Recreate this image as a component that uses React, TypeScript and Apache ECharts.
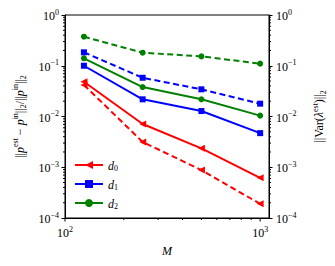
import React, { useEffect, useRef } from "react";
import * as echarts from "echarts";

const M = [125, 250, 500, 1000];
const d0Err = [0.0485, 0.0071, 0.00236, 0.00062];
const d1Err = [0.1, 0.0218, 0.0128, 0.0047];
const d2Err = [0.14, 0.038, 0.0218, 0.0104];
const d0Var = [0.0418, 0.00315, 0.00088, 0.00019];
const d1Var = [0.184, 0.058, 0.0343, 0.0179];
const d2Var = [0.374, 0.181, 0.153, 0.11];
const xMajorTicks = [100, 1000];
const xMinorTicks = [200, 300, 400, 500, 600, 700, 800, 900];
const yMinorTicks: number[] = [];
[1e-4, 1e-3, 1e-2, 1e-1].forEach((d) => {
  for (let k = 2; k <= 9; k++) yMinorTicks.push(+(d * k).toPrecision(3));
});

const FONT = "Liberation Serif";
const RED = "#ff0000";
const BLUE = "#0000ff";
const GREEN = "#008000";

const supLabel = (v: number) => {
  const e = Math.round(Math.log10(v));
  if (Math.abs(Math.log10(v) - e) > 1e-6) return "";
  return `{b|10}{s|${e < 0 ? "−" + -e : e}}`;
};

const labelRich = {
  b: { fontFamily: FONT, fontSize: 12, color: "#000", lineHeight: 14, verticalAlign: "bottom" },
  s: { fontFamily: FONT, fontSize: 8, color: "#000", lineHeight: 8, verticalAlign: "top" },
};

const nameRich = {
  n: { fontFamily: FONT, fontSize: 12, color: "#000", lineHeight: 16, verticalAlign: "middle" },
  i: { fontFamily: FONT, fontSize: 12, fontStyle: "italic", color: "#000", lineHeight: 16, verticalAlign: "middle" },
  sup: { fontFamily: FONT, fontSize: 8, color: "#000", lineHeight: 8, verticalAlign: "top" },
  sub: { fontFamily: FONT, fontSize: 8, color: "#000", lineHeight: 8, verticalAlign: "bottom" },
};

export default function App() {
  const ref = useRef<HTMLDivElement>(null);
  useEffect(() => {
    if (!ref.current) return;
    const chart = echarts.init(ref.current, undefined, { renderer: "svg" });
    const lineSeries = (name: string, ys: number[], color: string, symbol: string, dashed: boolean, rotate = 0, size = 6) => ({
      type: "line",
      name,
      data: M.map((x, i) => [x, ys[i]]),
      symbol,
      symbolSize: size,
      symbolRotate: rotate,
      showAllSymbol: true,
      color,
      itemStyle: { color },
      lineStyle: { color, width: 2, type: dashed ? [6, 3.5] : "solid" },
      z: 5,
    });
    const tickSeries = (data: number[][], kind: "x" | "y", len: number) => ({
      type: "custom",
      silent: true,
      clip: false,
      data,
      renderItem: (params: any, api: any) => {
        const cs = params.coordSys;
        const p = api.coord([api.value(0), api.value(1)]);
        const s = { stroke: "#000", lineWidth: 1 };
        if (kind === "x") {
          const y0 = cs.y + cs.height;
          return { type: "line", shape: { x1: p[0], y1: y0, x2: p[0], y2: y0 + len }, style: s };
        }
        return {
          type: "group",
          children: [
            { type: "line", shape: { x1: cs.x, y1: p[1], x2: cs.x - len, y2: p[1] }, style: s },
            { type: "line", shape: { x1: cs.x + cs.width, y1: p[1], x2: cs.x + cs.width + len, y2: p[1] }, style: s },
          ],
        };
      },
    });
    chart.setOption({
      animation: false,
      grid: { left: 65, right: 66, top: 15, bottom: 48, show: true, borderColor: "#000", borderWidth: 1, containLabel: false },
      legend: {
        data: ["d0", "d1", "d2"],
        orient: "vertical",
        left: 74,
        top: 160,
        padding: 0,
        itemWidth: 28,
        itemHeight: 10,
        itemGap: 7,
        formatter: (n: string) => `{i|d}{s|${n.slice(1)}}`,
        textStyle: {
          rich: {
            i: { fontFamily: FONT, fontSize: 12, fontStyle: "italic", color: "#000", lineHeight: 14, verticalAlign: "bottom" },
            s: { fontFamily: FONT, fontSize: 8, color: "#000", lineHeight: 8, verticalAlign: "bottom" },
          },
        },
      },
      xAxis: {
        type: "log",
        logBase: 10,
        min: 100,
        max: 1110,
        name: "M",
        nameLocation: "middle",
        nameGap: 27,
        nameTextStyle: { fontFamily: FONT, fontSize: 12, fontStyle: "italic", color: "#000" },
        axisLine: { lineStyle: { color: "#000", width: 1 } },
        axisTick: { show: false },
        splitLine: { show: false },
        minorTick: { show: false },
        axisLabel: { formatter: supLabel, rich: labelRich, margin: 7, showMaxLabel: false },
      },
      yAxis: [
        {
          type: "log",
          logBase: 10,
          min: 1e-4,
          max: 1,
          position: "left",
          name: "{n|||}{i|p}{sup|est}{n| − }{i|p}{sup|in}{n|||}{sub|2}{n|/||}{i|p}{sup|in}{n|||}{sub|2}",
          nameLocation: "middle",
          nameRotate: 90,
          nameGap: 26,
          nameTextStyle: { rich: nameRich },
          axisLine: { show: true, lineStyle: { color: "#000", width: 1 } },
          axisTick: { show: true, inside: false, length: 3.5, lineStyle: { color: "#000" } },
          splitLine: { show: false },
          axisLabel: { formatter: supLabel, rich: labelRich, margin: 6 },
        },
        {
          type: "log",
          logBase: 10,
          min: 1e-4,
          max: 1,
          position: "right",
          name: "{n|||Var(}{i|λ}{sup|est}{n|)||}{sub|2}",
          nameLocation: "middle",
          nameRotate: 90,
          nameGap: 42,
          nameTextStyle: { rich: nameRich },
          axisLine: { show: true, lineStyle: { color: "#000", width: 1 } },
          axisTick: { show: true, inside: false, length: 3.5, lineStyle: { color: "#000" } },
          splitLine: { show: false },
          axisLabel: { formatter: supLabel, rich: labelRich, margin: 7 },
        },
      ],
      series: [
        lineSeries("d0", d0Err, RED, "triangle", false, 90, 7),
        lineSeries("d1", d1Err, BLUE, "rect", false, 0, 6),
        lineSeries("d2", d2Err, GREEN, "circle", false, 0, 6),
        lineSeries("d0 var", d0Var, RED, "triangle", true, 90, 7),
        lineSeries("d1 var", d1Var, BLUE, "rect", true, 0, 6),
        lineSeries("d2 var", d2Var, GREEN, "circle", true, 0, 6),
        tickSeries(xMajorTicks.map((x) => [x, 1e-4]), "x", 3.5),
        tickSeries(xMinorTicks.map((x) => [x, 1e-4]), "x", 2),
        tickSeries(yMinorTicks.map((y) => [100, y]), "y", 2),
      ],
    });
    return () => chart.dispose();
  }, []);
  return <div ref={ref} style={{ position: "absolute", left: 0, top: 0, width: 335, height: 266 }} />;
}
